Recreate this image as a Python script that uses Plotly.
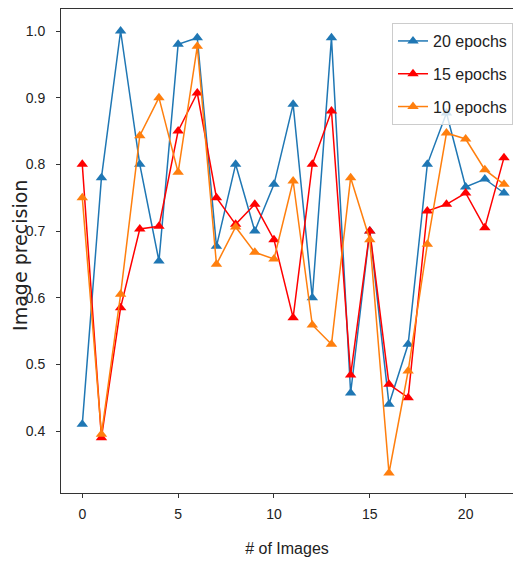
import plotly.graph_objects as go

x_vals = list(range(23))
ep20 = [0.41, 0.78, 1.00, 0.80, 0.655, 0.98, 0.99, 0.677, 0.80, 0.70, 0.77, 0.89, 0.60, 0.99,
        0.457, 0.70, 0.44, 0.53, 0.80, 0.877, 0.766, 0.778, 0.757]
ep15 = [0.80, 0.39, 0.585, 0.703, 0.707, 0.85, 0.907, 0.75, 0.71, 0.74, 0.687, 0.57, 0.80, 0.88,
        0.484, 0.70, 0.47, 0.45, 0.73, 0.74, 0.757, 0.705, 0.81]
ep10 = [0.75, 0.395, 0.605, 0.843, 0.90, 0.788, 0.977, 0.65, 0.706, 0.668, 0.658, 0.775, 0.559, 0.53,
        0.78, 0.687, 0.337, 0.49, 0.68, 0.847, 0.838, 0.792, 0.77]
series = [("20 epochs", ep20, "#1f77b4"), ("15 epochs", ep15, "#ff0000"), ("10 epochs", ep10, "#ff7f0e")]
x_ticks = [0, 5, 10, 15, 20]
y_ticks = [0.4, 0.5, 0.6, 0.7, 0.8, 0.9, 1.0]
y_ticktext = ["0.4", "0.5", "0.6", "0.7", "0.8", "0.9", "1.0"]

FONT = "Liberation Sans, Arial, sans-serif"

fig = go.Figure()
for name, vals, col in series:
    fig.add_trace(go.Scatter(x=x_vals, y=vals, name=name, legendgroup=name, mode="lines+markers",
                             line=dict(color=col, width=1.5),
                             marker=dict(symbol="triangle-up", size=10, color=col)))

fig.update_layout(
    width=505, height=550,
    margin=dict(l=53, r=0, t=1, b=65),
    paper_bgcolor="white", plot_bgcolor="white",
    font=dict(family=FONT, size=14, color="#222"),
    showlegend=True,
    legend=dict(x=1.0, y=0.971, xanchor="right", yanchor="top",
                bgcolor="rgba(255,255,255,0.8)", bordercolor="#cccccc", borderwidth=1,
                font=dict(size=16, family=FONT, color="#222"),
                traceorder="grouped", tracegroupgap=9, itemwidth=30),
    annotations=[dict(text="Image precision", textangle=-90, xref="paper", yref="paper",
                      x=-0.091, y=0.4917, xanchor="center", yanchor="middle", showarrow=False,
                      font=dict(size=19, family="DejaVu Sans", color="#222"))],
)
fig.update_xaxes(range=[-1.11, 22.47], tickvals=x_ticks, ticks="outside", ticklen=4,
                 tickcolor="#333", showgrid=False, zeroline=False, showline=True, linecolor="#333",
                 linewidth=1, mirror=True, tickfont=dict(size=14), automargin=False,
                 ticklabelstandoff=4,
                 title=dict(text="# of Images", font=dict(size=16), standoff=22))
fig.update_yaxes(range=[0.307, 1.033], tickvals=y_ticks, ticktext=y_ticktext,
                 ticks="outside", ticklen=4, tickcolor="#333", showgrid=False, zeroline=False,
                 showline=True, linecolor="#333", linewidth=1, mirror=False, tickfont=dict(size=14),
                 automargin=False, ticklabelstandoff=8)

fig.write_html("out.html")
